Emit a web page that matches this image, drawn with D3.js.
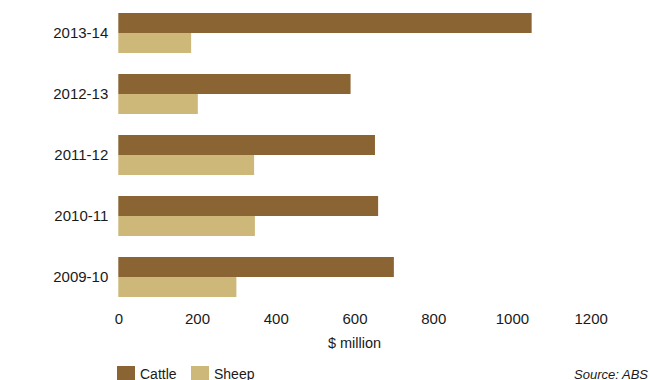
<!DOCTYPE html>
<html>
<head>
<meta charset="utf-8">
<script src="https://cdn.jsdelivr.net/npm/d3@7"></script>
<style>
  html, body { margin: 0; padding: 0; background: #fff; }
  svg { display: block; }
  text { font-family: "Liberation Sans Narrow", "Arial Narrow", "Liberation Sans", Arial, sans-serif; fill: #1a1a1a; }
</style>
</head>
<body>
<svg id="chart" width="650" height="380"></svg>
<script>
const years = ["2013-14", "2012-13", "2011-12", "2010-11", "2009-10"];
const seriesNames = ["Cattle", "Sheep"];
const cattle = [1050, 590, 652, 660, 700];
const sheep = [185, 202, 345, 347, 300];
const xTicks = [0, 200, 400, 600, 800, 1000, 1200];
const colors = ["#8A6433", "#CDB87A"];

const svg = d3.select("#chart");
const fontSize = 15;

const x = d3.scaleLinear().domain([0, 1200]).range([118.3, 590.7]);
const y = d3.scaleBand().domain(years).range([2.5, 307.5]).paddingInner(21/61).paddingOuter(10.5/61);
const ySub = d3.scaleBand().domain(seriesNames).range([0, y.bandwidth()]);
const color = d3.scaleOrdinal().domain(seriesNames).range(colors);

const rows = years.map((yr, i) => ({ year: yr, values: [
  { key: "Cattle", value: cattle[i] },
  { key: "Sheep", value: sheep[i] }
]}));

const g = svg.append("g");
const groups = g.selectAll("g.grp").data(rows).enter().append("g")
  .attr("class", "grp")
  .attr("transform", d => `translate(0,${y(d.year)})`);
groups.selectAll("rect").data(d => d.values).enter().append("rect")
  .attr("x", x(0))
  .attr("y", d => ySub(d.key))
  .attr("width", d => x(d.value) - x(0))
  .attr("height", ySub.bandwidth())
  .attr("fill", d => color(d.key));

// x axis
const xAxis = svg.append("g")
  .attr("transform", "translate(0,307)")
  .call(d3.axisBottom(x).tickValues(xTicks).tickSize(0).tickPadding(6).tickFormat(d3.format("d")));
xAxis.select(".domain").remove();
xAxis.selectAll("text").style("font-size", fontSize + "px").style("font-family", null);

// y axis
const yAxis = svg.append("g")
  .attr("transform", `translate(${x(0)},0)`)
  .call(d3.axisLeft(y).tickSize(0).tickPadding(10));
yAxis.select(".domain").remove();
yAxis.selectAll("text").style("font-size", fontSize + "px").style("font-family", null);
yAxis.selectAll("text").attr("dy", "0.35em");

// axis title
svg.append("text")
  .attr("x", x(600))
  .attr("y", 348)
  .attr("text-anchor", "middle")
  .style("font-size", "14.5px")
  .text("$ million");

// legend
const legend = svg.append("g");
const legX = [117, 191];
seriesNames.forEach((s, i) => {
  legend.append("rect")
    .attr("x", legX[i]).attr("y", 366)
    .attr("width", 18).attr("height", 16)
    .attr("fill", colors[i]);
  legend.append("text")
    .attr("x", legX[i] + 23).attr("y", 378.5)
    .style("font-size", "14px")
    .text(s);
});

// source
svg.append("text")
  .attr("x", 648).attr("y", 378.5)
  .attr("text-anchor", "end")
  .style("font-size", "13px")
  .style("font-style", "italic")
  .text("Source: ABS");
</script>
</body>
</html>
